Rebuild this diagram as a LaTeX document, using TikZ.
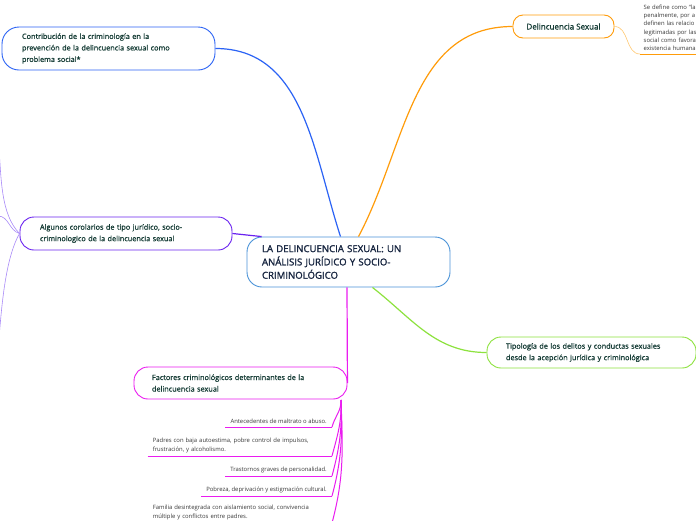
\documentclass[tikz,border=0pt]{standalone}
\usepackage{fontspec}
\setmainfont{Open Sans}
\newfontfamily\heavyfont{Open Sans}[FakeBold=1.6]
\newfontfamily\semifont{Open Sans}[FakeBold=1.0]
\usetikzlibrary{positioning}
\definecolor{inkgreen}{HTML}{163D36}
\definecolor{inknavy}{HTML}{172540}
\definecolor{leafgray}{HTML}{3A3A3A}
\definecolor{rootblue}{HTML}{4A93D8}
\definecolor{topblue}{HTML}{2B63F5}
\definecolor{toporange}{HTML}{FF9C0A}
\definecolor{paleorange}{HTML}{FFC870}
\definecolor{toppurple}{HTML}{6A22F0}
\definecolor{palepurple}{HTML}{A98AF8}
\definecolor{topgreen}{HTML}{8DE23E}
\definecolor{topmagenta}{HTML}{EA1CF0}
\tikzset{
  root/.style={draw=rootblue, line width=0.9pt, rounded corners=15pt, fill=white,
    minimum width=203pt, minimum height=50pt, text width=173pt, align=left,
    text=inknavy, font=\heavyfont\fontsize{9.6}{13.3}\selectfont},
  topic/.style={line width=0.9pt, fill=white, align=left, text=inkgreen,
    rounded corners=14pt, font=\semifont\fontsize{7.3}{11.5}\selectfont},
  leaf/.style={text=leafgray, inner xsep=5pt, inner ysep=3pt, align=left,
    font=\fontsize{5.9}{9}\selectfont},
  note/.style={text=leafgray, inner xsep=3.5pt, inner ysep=3pt, align=left,
    text width=70pt, font=\fontsize{5.9}{8.3}\selectfont},
  branch/.style={line width=1.2pt},
  twig/.style={line width=0.6pt},
}

\begin{document}
\begin{tikzpicture}[x=1pt, y=1pt]
    \path[fill=white, use as bounding box] (0,0) rectangle (696,-520);
    \clip (0,0) rectangle (696,-520);

    % main topic and its branches
    \node[root] (main) at (348.5,-262)
      {LA DELINCUENCIA SEXUAL: UN\\ANÁLISIS JURÍDICO Y SOCIO-\\CRIMINOLÓGICO};
    \node[topic, draw=topblue, rounded corners=17pt, minimum width=213pt,
      minimum height=43pt, text width=173pt] (contrib) at (108.5,-48.5)
      {Contribución de la criminología en la\\prevención de la delincuencia sexual como\\problema social*};
    \node[topic, draw=toporange, rounded corners=10pt, minimum width=101pt,
      minimum height=23pt, align=center, font=\semifont\fontsize{8}{9}\selectfont] (dsex) at (563.5,-26.5)
      {Delincuencia Sexual};
    \node[topic, draw=toppurple, minimum width=212pt, minimum height=33pt,
      text width=172pt] (cor) at (126,-233.5)
      {Algunos corolarios de tipo jurídico, socio-\\criminologico de la delincuencia sexual};
    \node[topic, draw=topgreen, minimum width=209pt, minimum height=31pt,
      text width=171pt] (tipo) at (591.5,-352.5)
      {Tipología de los delitos y conductas sexuales\\desde la acepción jurídica y criminológica};
    \node[topic, draw=topmagenta, minimum width=213pt, minimum height=32pt,
      text width=177pt] (fact) at (240.5,-383)
      {Factores criminológicos determinantes de la\\delincuencia sexual};

    % details
    \node[note, anchor=south west] (defn) at (640,-54)
      {Se define como “la\\penalmente, por a\\definen las relacio\\legitimadas por las\\social como favora\\existencia humana};
    \node[leaf, anchor=south east] (l1) at (332,-427) {Antecedentes de maltrato o abuso.};
    \node[leaf, anchor=south east, text width=174pt] (l2) at (332,-456)
      {Padres con baja autoestima, pobre control de impulsos,\\frustración, y alcoholismo.};
    \node[leaf, anchor=south east] (l3) at (332,-476) {Trastornos graves de personalidad.};
    \node[leaf, anchor=south east] (l4) at (332,-496) {Pobreza, deprivación y estigmación cultural.};
    \node[leaf, anchor=south east, text width=174pt] (l5) at (332,-523)
      {Familia desintegrada con aislamiento social, convivencia\\múltiple y conflictos entre padres.};

    \coordinate (fk) at (341,-400);
    \coordinate (cor1) at (-1,-150);
    \coordinate (cor2) at (-2,-216);
    \coordinate (cor3) at (-1,-338);

    \path[branch]
      ([xshift=-8pt]main.north) edge[topblue, out=108, in=0] (contrib.east)
      ([xshift=10pt]main.north) edge[toporange, out=62, in=180] (dsex.west)
      (cor.east) edge[toppurple] ([xshift=15pt]main.north west)
      ([xshift=24pt]main.south) edge[topgreen, out=-38, in=180] (tipo.west)
      ([xshift=-1.5pt]main.south) edge[topmagenta] (fact.east);
    \path[twig]
      (dsex.east) edge[paleorange, out=0, in=180] (defn.south west)
      (cor.west) edge[palepurple, out=135, in=-85, looseness=0.8] (cor1)
      (cor.west) edge[palepurple, out=165, in=0] (cor2)
      (cor.west) edge[palepurple, out=-120, in=85, looseness=0.7] (cor3);
    \path[toporange, line width=1pt]
      (defn.south west) edge (defn.south east);
    \path[topmagenta, line width=1pt]
      (fk) edge[out=-88, in=75] (l1.south east)
      (fk) edge[out=-88, in=75] (l2.south east)
      (fk) edge[out=-88, in=75] (l3.south east)
      (fk) edge[out=-88, in=75] (l4.south east)
      (fk) edge[out=-88, in=75] (l5.south east)
      (l1.south west) edge (l1.south east)
      (l2.south west) edge (l2.south east)
      (l3.south west) edge (l3.south east)
      (l4.south west) edge (l4.south east)
      (l5.south west) edge (l5.south east);
\end{tikzpicture}
\end{document}
